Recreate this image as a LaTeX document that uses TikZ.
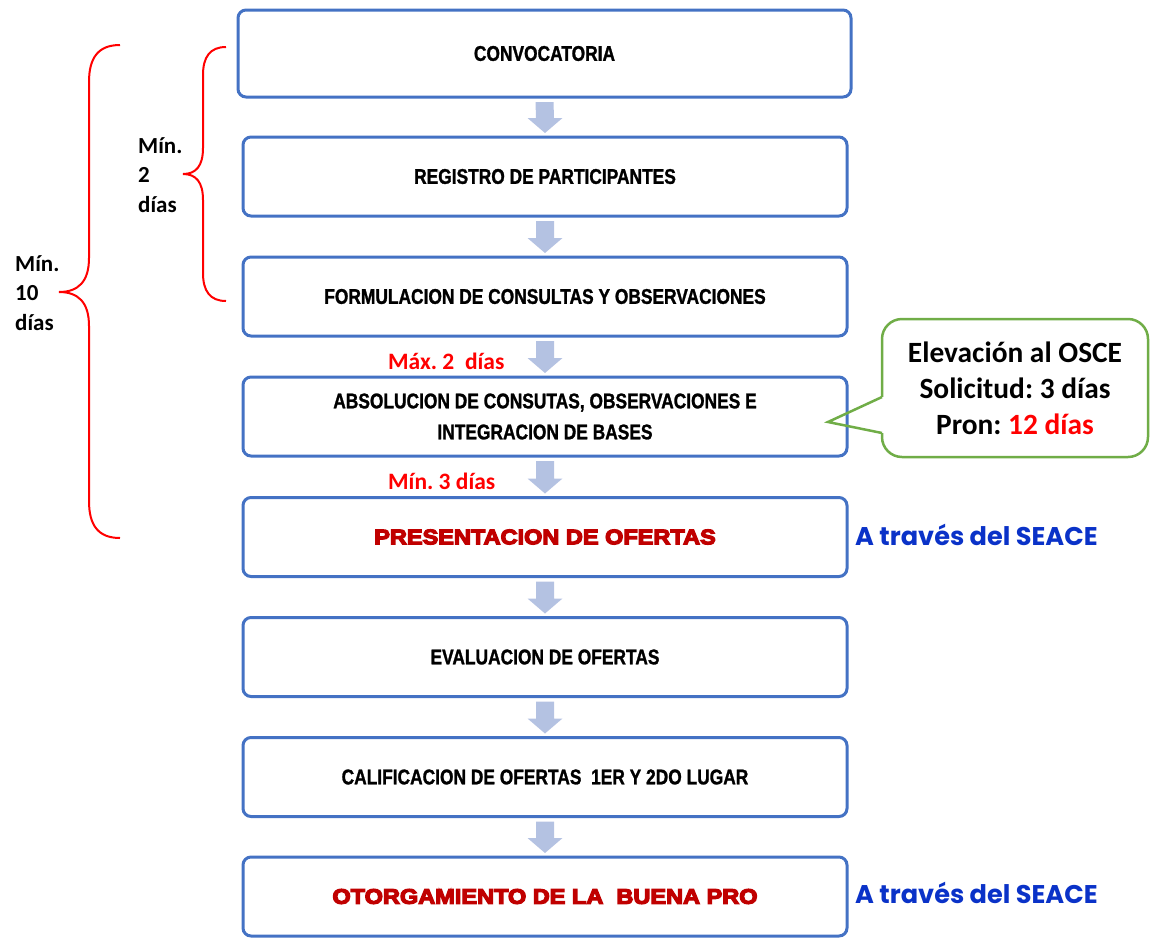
\documentclass[tikz,border=0pt]{standalone}
\usepackage{fontspec}
\usetikzlibrary{calc}
\setmainfont{Carlito}
\frenchspacing
\newfontfamily\boxfont{Liberation Sans Bold}[FakeStretch=0.815,FakeBold=1.2]
\newfontfamily\heavyfont{Liberation Sans Bold}[FakeStretch=1.12,FakeBold=6]
\newfontfamily\seacefont{Poppins}
\definecolor{boxblue}{RGB}{68,114,196}
\definecolor{arrowfill}{RGB}{180,194,226}
\definecolor{calgreen}{RGB}{112,173,71}
\definecolor{darkred}{RGB}{192,0,0}
\definecolor{seaceblue}{RGB}{10,50,200}
\definecolor{brred}{RGB}{255,0,0}
\tikzset{
  stepbox/.style={draw=boxblue, line width=3pt, rounded corners=8pt, fill=white,
    minimum width=604pt, minimum height=79pt, inner sep=0pt, outer sep=0pt,
    font=\boxfont\fontsize{21.3}{31}\selectfont, align=center},
  flowarrow/.style={fill=arrowfill},
  bracestyle/.style={draw=brred, line width=2pt},
  sidelabel/.style={font=\bfseries\fontsize{23}{29.5}\selectfont, align=left, inner sep=0pt, anchor=west},
  redlabel/.style={font=\bfseries\fontsize{23.5}{26}\selectfont, text=brred, inner sep=0pt, anchor=west},
  seace/.style={font=\seacefont\bfseries\fontsize{25.6}{30}\selectfont, text=seaceblue, inner sep=0pt, anchor=west},
  callout/.style={draw=calgreen, line width=2.5pt, rounded corners=20pt, fill=white,
    minimum width=266pt, minimum height=138pt, inner sep=0pt, outer sep=0pt,
    font=\bfseries\fontsize{29.4}{36}\selectfont, align=center},
  calloutline/.style={draw=calgreen, line width=2.5pt, line join=miter}
}
\newcommand\heavytext[1]{\textcolor{darkred}{\heavyfont\fontsize{21}{25}\selectfont #1}}
\newcommand\flowconn[2]{%
  \fill[flowarrow] ($(#1.south)+(-9,5)$) -- ($(#1.south)+(9,5)$)
    -- ($(#2.north)+(9,-19)$) -- ($(#2.north)+(17.5,-19)$)
    -- ($(#2.north)+(0,-4)$) -- ($(#2.north)+(-17.5,-19)$)
    -- ($(#2.north)+(-9,-19)$) -- cycle;}
\begin{document}
\begin{tikzpicture}[x=1pt,y=-1pt]
\useasboundingbox (0,0) rectangle (1152,938);

% boxes
\node[stepbox, minimum width=613pt, minimum height=87pt] (b1) at (544.5,53.5) {CONVOCATORIA};
\node[stepbox] (b2) at (545,176.5) {REGISTRO DE PARTICIPANTES};
\node[stepbox] (b3) at (545,296.5) {FORMULACION DE CONSULTAS Y OBSERVACIONES};
\node[stepbox] (b4) at (545,416.5) {ABSOLUCION DE CONSUTAS, OBSERVACIONES E\\INTEGRACION DE BASES};
\node[stepbox] (b5) at (545,537) {\heavytext{PRESENTACION DE OFERTAS}};
\node[stepbox] (b6) at (545,657) {EVALUACION DE OFERTAS};
\node[stepbox] (b7) at (545,777) {CALIFICACION DE OFERTAS\ \ 1ER Y 2DO LUGAR};
\node[stepbox] (b8) at (545,896.5) {\heavytext{OTORGAMIENTO DE LA\ \ BUENA PRO}};

% arrows
\flowconn{b1}{b2}
\flowconn{b2}{b3}
\flowconn{b3}{b4}
\flowconn{b4}{b5}
\flowconn{b5}{b6}
\flowconn{b6}{b7}
\flowconn{b7}{b8}

% red labels
\node[redlabel] (maxdias) at (388,361) {Máx. 2\ \ días};
\node[redlabel] (mindias) at (388,481) {Mín. 3 días};

% braces
\draw[bracestyle] (120,45) .. controls (98,45) and (89,58) .. (89,82)
  -- (89,258) .. controls (89,282) and (78,292) .. (59,292)
  .. controls (78,292) and (89,302) .. (89,326)
  -- (89,501) .. controls (89,525) and (98,538) .. (120,538);
\draw[bracestyle] (226,47) .. controls (210,47) and (203,57) .. (203,75)
  -- (203,148) .. controls (203,166) and (196,174) .. (183,174)
  .. controls (196,174) and (203,182) .. (203,200)
  -- (203,273) .. controls (203,291) and (210,301) .. (226,301);

% side labels
\node[sidelabel] (min2) at (138,175) {Mín.\\2\\días};
\node[sidelabel] (min10) at (15,293) {Mín.\\10\\días};

% callout
\node[callout] (elev) at (1015,388) {Elevación al OSCE\\Solicitud: 3 días\\Pron: \textcolor{brred}{12 días}};
\coordinate (tip) at (828,422);
\fill[white] ($(elev.west)+(-1.6,9)$) rectangle ($(elev.west)+(1.6,45)$);
\draw[calloutline] ($(elev.west)+(0,9)$) -- (tip) -- ($(elev.west)+(0,45)$);

% SEACE
\node[seace] (seace1) at (855,535) {A través del SEACE};
\node[seace] (seace2) at (855,893) {A través del SEACE};
\end{tikzpicture}
\end{document}
